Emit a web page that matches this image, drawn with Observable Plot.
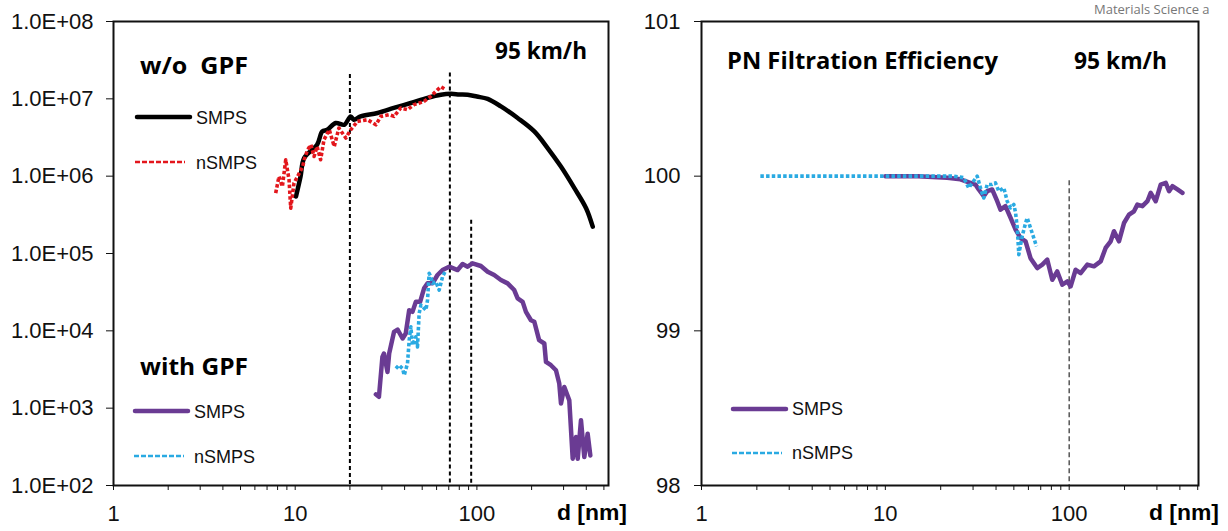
<!DOCTYPE html>
<html><head><meta charset="utf-8">
<script src="https://cdn.jsdelivr.net/npm/d3@7"></script>
<script src="https://cdn.jsdelivr.net/npm/@observablehq/plot@0.6"></script>
<style>
body{margin:0;background:#fff;}
#wrap{position:relative;width:1228px;height:531px;overflow:hidden;background:#fff;}
#left{position:absolute;left:0;top:0;}
#right{position:absolute;left:620px;top:0;}
#ov{position:absolute;left:0;top:0;pointer-events:none;}
</style></head><body>
<div id="wrap"><div id="left"></div><div id="right"></div><svg id="ov" width="1228" height="531"></svg></div>
<script>
// ---------- DATA ----------
// Left panel: w/o GPF, SMPS
const dNoGpfSmps = [10.1, 10.7, 11.2, 13.2, 14.1, 15.0, 16.7, 18.6, 20.2, 21.0, 22.9, 28.4, 34.9, 43.3, 53.5, 63.4, 71.9, 80, 88.9, 100, 114.6, 135.6, 167.6, 207, 245, 290, 344, 399, 434];
const nNoGpfSmps = [5.45e5, 9.9e5, 1.71e6, 2.55e6, 3.79e6, 3.98e6, 4.87e6, 4.62e6, 5.93e6, 5.37e6, 5.93e6, 6.56e6, 7.62e6, 8.84e6, 1.03e7, 1.13e7, 1.16e7, 1.14e7, 1.13e7, 1.07e7, 9.96e6, 7.98e6, 5.65e6, 3.79e6, 2.31e6, 1.33e6, 7.0e5, 3.85e5, 2.22e5];
// Left panel: w/o GPF, nSMPS
const dNoGpfN = [7.81, 8.14, 8.50, 8.87, 9.25, 9.45, 9.85, 10.3, 11.0, 11.2, 11.7, 12.2, 12.7, 13.2, 13.8, 14.4, 15.4, 16.4, 17.4, 19.0, 20.2, 22.0, 25.0, 27.8, 29.6, 32.9, 35.0, 38.1, 41.5, 45.1, 51.2, 55.8, 60.7, 63.4, 67.5];
const nNoGpfN = [6.03e5, 9.9e5, 7.34e5, 1.63e6, 8.97e5, 3.85e5, 8.13e5, 9.9e5, 1.33e6, 1.63e6, 2.19e6, 2.55e6, 1.80e6, 2.42e6, 1.63e6, 2.96e6, 3.98e6, 2.42e6, 4.19e6, 3.11e6, 3.98e6, 5.11e6, 5.37e6, 4.62e6, 5.93e6, 6.23e6, 5.93e6, 7.62e6, 7.24e6, 8.41e6, 9.27e6, 1.08e7, 1.31e7, 1.43e7, 1.31e7];
// Left panel: with GPF, SMPS
const dGpfSmps = [27.8, 28.9, 30.2, 30.8, 32.2, 32.9, 35.0, 36.6, 39.0, 40.6, 42.4, 44.2, 46.1, 48.7, 51.2, 53.5, 57.0, 60.7, 64.7, 70.4, 78.3, 83.4, 88.9, 94.6, 105.2, 114.6, 124.5, 135.6, 147.6, 160.5, 167.6, 178.6, 186.2, 198.4, 207, 220, 235, 240, 255.6, 272.4, 284, 290.3, 302.7, 322.5, 336.7, 351.2, 358.8, 374, 390, 407, 421];
const nGpfSmps = [1.51e3, 1.40e3, 4.60e3, 5.09e3, 2.94e3, 5.09e3, 9.7e3, 1.04e4, 7.96e3, 9.25e3, 1.85e4, 1.76e4, 2.37e4, 2.37e4, 3.54e4, 4.11e4, 4.11e4, 5.27e4, 6.11e4, 6.75e4, 6.11e4, 7.31e4, 6.75e4, 7.46e4, 6.89e4, 5.81e4, 5.27e4, 4.54e4, 4.11e4, 3.37e4, 2.63e4, 2.37e4, 1.76e4, 1.37e4, 1.31e4, 7.57e3, 6.86e3, 3.96e3, 3.59e3, 3.09e3, 2.08e3, 1.15e3, 1.88e3, 1.26e3, 222, 423, 222, 697, 233, 468, 245];
// Left panel: with GPF, nSMPS
const dGpfN = [35.8, 37.3, 39.0, 39.8, 41.5, 42.4, 43.3, 44.2, 46.1, 47.1, 48.1, 49.2, 52.4, 53.5, 54.6, 55.8, 57.0, 59.4, 62.0, 64.7, 67.5];
const nGpfN = [3.25e3, 3.59e3, 3.25e3, 2.67e3, 3.78e3, 7.57e3, 1.13e4, 6.52e3, 8.36e3, 6.2e3, 1.68e4, 2.15e4, 1.85e4, 2.5e4, 5.54e4, 5.0e4, 4.11e4, 4.32e4, 3.37e4, 5.0e4, 6.11e4];
// Left panel guide lines (diameter, top value)
const guideXL = [20, 71, 93];
const guideTopL = [2.06e7, 2.16e7, 2.7e5];

// Right panel: filtration efficiency, SMPS
const dEffSmps = [10, 15, 21.7, 25.6, 29.0, 30.9, 32.2, 34.3, 35.8, 38.1, 40.6, 42.3, 45.0, 48.0, 51.1, 54.4, 57.9, 61.6, 67.0, 71.4, 76.0, 80.9, 86.1, 91.7, 97.7, 101.8, 108.4, 115.4, 125.5, 136.3, 148.3, 157.8, 168.1, 175.2, 186.5, 198.6, 211.5, 225.1, 234.9, 250.1, 266.3, 277.5, 295.6, 314.6, 335, 349.3, 364.4, 388, 413];
const eEffSmps = [100, 100, 99.99, 99.98, 99.957, 99.946, 99.914, 99.87, 99.903, 99.914, 99.838, 99.784, 99.806, 99.73, 99.655, 99.60, 99.579, 99.47, 99.406, 99.428, 99.46, 99.33, 99.384, 99.298, 99.32, 99.287, 99.395, 99.373, 99.428, 99.417, 99.449, 99.536, 99.579, 99.644, 99.579, 99.697, 99.751, 99.773, 99.816, 99.806, 99.838, 99.892, 99.838, 99.946, 99.957, 99.903, 99.935, 99.914, 99.892];
// Right panel: filtration efficiency, nSMPS
const dEffN = [2.09, 10, 23.5, 26.7, 28.4, 29.7, 31.6, 32.9, 34.3, 35.8, 38.1, 39.7, 41.4, 44.1, 46.0, 48.0, 50.0, 51.1, 52.2, 53.2, 54.4, 55.5, 57.9, 59.1, 61.6, 64.2, 66.4];
const eEffN = [100, 100, 100, 99.99, 99.924, 99.957, 100, 99.924, 99.859, 99.946, 99.946, 99.957, 99.903, 99.924, 99.838, 99.795, 99.817, 99.762, 99.665, 99.493, 99.557, 99.611, 99.697, 99.73, 99.665, 99.60, 99.546];
const guideXR = [100];
const guideTopR = [99.97];

// Axis ticks
const xTicks = [1,2,3,4,5,6,7,8,9,10,20,30,40,50,60,70,80,90,100,200,300,400,500];
const xTickLabelValues = [1, 10, 100];
const xTickLabels = ["1", "10", "100"];
const yTicksL = [1e2, 1e3, 1e4, 1e5, 1e6, 1e7, 1e8];
const yTickLabelsL = ["1.0E+02", "1.0E+03", "1.0E+04", "1.0E+05", "1.0E+06", "1.0E+07", "1.0E+08"];
const yTicksR = [98, 99, 100, 101];
const yTickLabelsR = ["98", "99", "100", "101"];

// ---------- HELPERS ----------
const zip = (xs, ys) => xs.map((x, i) => ({x, y: ys[i]}));
const xFmt = d => { const i = xTickLabelValues.indexOf(d); return i >= 0 ? xTickLabels[i] : ""; };
const style = {fontFamily: '"Liberation Sans", Arial, sans-serif', fontSize: "22px", color: "#111", background: "white", overflow: "visible"};
const C = {black: "#000000", red: "#e3161c", purple: "#6a3b93", blue: "#2aaae2"};
const dashed = {strokeWidth: 3.6, strokeDasharray: "3.5 2.2", strokeLinecap: "butt", strokeLinejoin: "round"};

// ---------- LEFT ----------
const left = Plot.plot({
  width: 620, height: 531,
  marginLeft: 113, marginRight: 12, marginTop: 21, marginBottom: 46,
  style,
  x: {type: "log", domain: [1, 530], label: null},
  y: {type: "log", domain: [1e2, 1e8], label: null},
  marks: [
    Plot.ruleX(zip(guideXL, guideTopL), {x: "x", y1: "y", y2: 1e2, stroke: "#000", strokeWidth: 2, strokeDasharray: "4 3"}),
    Plot.line(zip(dNoGpfSmps, nNoGpfSmps), {x: "x", y: "y", stroke: C.black, strokeWidth: 4.5, strokeLinejoin: "round", curve: "catmull-rom"}),
    Plot.line(zip(dNoGpfN, nNoGpfN), {x: "x", y: "y", stroke: C.red, ...dashed}),
    Plot.line(zip(dGpfSmps, nGpfSmps), {x: "x", y: "y", stroke: C.purple, strokeWidth: 4.5, strokeLinejoin: "round"}),
    Plot.line(zip(dGpfN, nGpfN), {x: "x", y: "y", stroke: C.blue, ...dashed}),
    Plot.frame({stroke: "#111", strokeWidth: 2}),
    Plot.axisX({ticks: xTicks, tickFormat: xFmt, tickSize: 5, tickPadding: 15, label: null, stroke: "#111"}),
    Plot.axisY({ticks: yTicksL, tickFormat: d => yTickLabelsL[yTicksL.indexOf(d)], tickSize: 7, tickPadding: 13, label: null, stroke: "#111"})
  ]
});
document.getElementById("left").appendChild(left);

// ---------- RIGHT ----------
const right = Plot.plot({
  width: 608, height: 531,
  marginLeft: 81, marginRight: 30, marginTop: 21, marginBottom: 46,
  style,
  x: {type: "log", domain: [1, 505], label: null},
  y: {domain: [98, 101], label: null},
  marks: [
    Plot.ruleX(zip(guideXR, guideTopR), {x: "x", y1: "y", y2: 98, stroke: "#555", strokeWidth: 1.5, strokeDasharray: "5 3"}),
    Plot.line(zip(dEffSmps, eEffSmps), {x: "x", y: "y", stroke: C.purple, strokeWidth: 4.5, strokeLinejoin: "round"}),
    Plot.line(zip(dEffN, eEffN), {x: "x", y: "y", stroke: C.blue, ...dashed}),
    Plot.frame({stroke: "#111", strokeWidth: 2}),
    Plot.axisX({ticks: xTicks, tickFormat: xFmt, tickSize: 5, tickPadding: 15, label: null, stroke: "#111"}),
    Plot.axisY({ticks: yTicksR, tickFormat: d => yTickLabelsR[yTicksR.indexOf(d)], tickSize: 7, tickPadding: 14, label: null, stroke: "#111"})
  ]
});
document.getElementById("right").appendChild(right);

// ---------- ANNOTATIONS / LEGENDS ----------
const ov = d3.select("#ov");
function bold(str, x, y, w, size) {
  ov.append("text").attr("x", x).attr("y", y)
    .attr("font-family", "'Open Sans', 'Liberation Sans', sans-serif").attr("font-weight", 700)
    .attr("font-size", size).attr("fill", "#000").style("white-space", "pre")
    .attr("textLength", w).attr("lengthAdjust", "spacingAndGlyphs").text(str);
}
function label(str, x, y) {
  ov.append("text").attr("x", x).attr("y", y)
    .attr("font-family", "'Liberation Sans', Arial, sans-serif").attr("font-size", 18).attr("fill", "#111").text(str);
}
function seg(x1, x2, y, color, w, dash) {
  const l = ov.append("line").attr("x1", x1).attr("x2", x2).attr("y1", y).attr("y2", y)
    .attr("stroke", color).attr("stroke-width", w);
  if (dash) l.attr("stroke-dasharray", dash); else l.attr("stroke-linecap", "round");
}
bold("w/o  GPF", 140, 74, 108, 24);
bold("95 km/h", 495, 59, 92, 24);
bold("with GPF", 140, 375, 108, 24);
bold("PN Filtration Efficiency", 727, 69, 271, 24);
bold("95 km/h", 1074, 69, 93, 24);

seg(137, 190, 117, C.black, 4.5);
label("SMPS", 196, 124);
seg(135, 185, 162, C.red, 2.4, "5 2");
label("nSMPS", 196, 169);
seg(135, 188, 411, C.purple, 4.5);
label("SMPS", 194, 418);
seg(134, 184, 456, C.blue, 2.4, "5 2");
label("nSMPS", 194, 463);

seg(733, 786, 409, C.purple, 4.5);
label("SMPS", 792, 415);
seg(732, 782, 453, C.blue, 2.4, "5 2");
label("nSMPS", 792, 459);

ov.append("text").attr("x", 557).attr("y", 520).attr("font-family", "'Liberation Sans', Arial, sans-serif")
  .attr("font-weight", 700).attr("font-size", 22).attr("textLength", 70).attr("lengthAdjust", "spacingAndGlyphs").text("d [nm]");
ov.append("text").attr("x", 1149).attr("y", 520).attr("font-family", "'Liberation Sans', Arial, sans-serif")
  .attr("font-weight", 700).attr("font-size", 22).attr("textLength", 70).attr("lengthAdjust", "spacingAndGlyphs").text("d [nm]");
ov.append("text").attr("x", 1094).attr("y", 14).attr("font-family", "'Open Sans', sans-serif")
  .attr("font-size", 13).attr("fill", "#777").text("Materials Science a");
</script></body></html>
